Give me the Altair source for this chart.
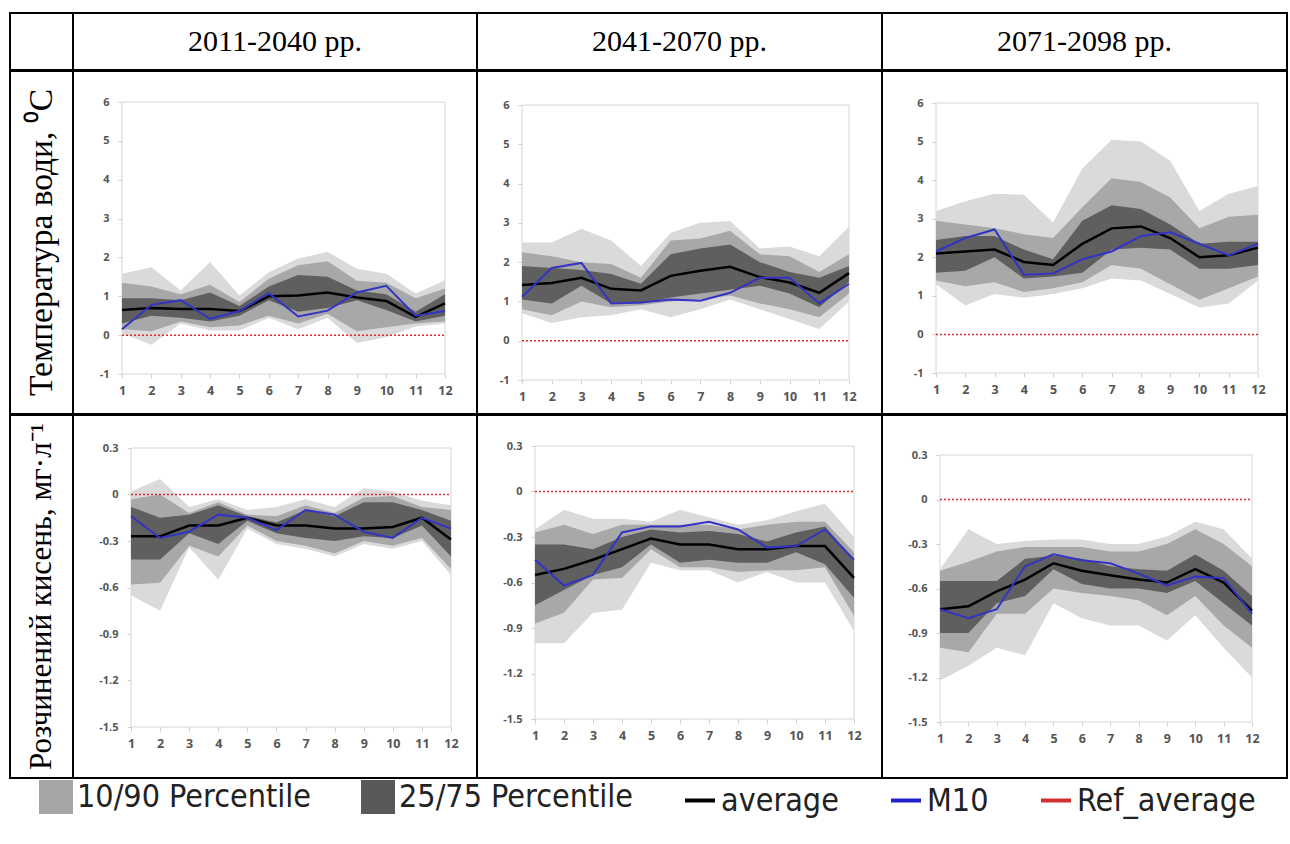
import altair as alt
import pandas as pd

# ---------------- data ----------------
MONTHS = list(range(1, 13))
HEADERS = ["2011-2040 рр.", "2041-2070 рр.", "2071-2098 рр."]
ROW_LABELS = ["Температура води, \u2070C", "Розчинений кисень,  мг·л\u207b\u00b9"]
TEMP_TICKS = [-1, 0, 1, 2, 3, 4, 5, 6]
OXY_TICKS = [-1.5, -1.2, -0.9, -0.6, -0.3, 0, 0.3]
REF_VALUE = 0
SERIES = ["10/90 Percentile", "25/75 Percentile", "average", "M10", "Ref_average"]

# water temperature, 2011-2040
T1 = dict(
    out_hi=[1.58, 1.75, 1.15, 1.88, 1.02, 1.62, 1.97, 2.14, 1.71, 1.58, 1.07, 1.41],
    mid_hi=[1.35, 1.25, 1.05, 1.30, 0.85, 1.45, 1.80, 1.90, 1.40, 1.35, 0.95, 1.20],
    in_hi=[0.95, 0.95, 0.90, 1.10, 0.75, 1.25, 1.55, 1.50, 1.15, 1.05, 0.60, 1.05],
    in_lo=[0.30, 0.50, 0.45, 0.35, 0.50, 0.90, 0.60, 0.70, 0.90, 0.65, 0.35, 0.50],
    mid_lo=[0.15, 0.10, 0.35, 0.20, 0.25, 0.50, 0.30, 0.55, 0.10, 0.20, 0.30, 0.35],
    out_lo=[0.05, -0.25, 0.30, 0.12, 0.12, 0.45, 0.15, 0.45, -0.20, -0.05, 0.22, 0.30],
    avg=[0.65, 0.70, 0.67, 0.67, 0.62, 1.00, 1.02, 1.10, 0.97, 0.88, 0.47, 0.82],
    m10=[0.15, 0.78, 0.90, 0.42, 0.62, 1.08, 0.48, 0.63, 1.10, 1.27, 0.50, 0.62],
)
# water temperature, 2041-2070
T2 = dict(
    out_hi=[2.50, 2.50, 2.85, 2.55, 1.90, 2.75, 3.00, 3.05, 2.35, 2.40, 2.15, 2.90],
    mid_hi=[2.25, 2.15, 2.00, 1.95, 1.60, 2.55, 2.60, 2.80, 2.20, 2.15, 1.75, 2.20],
    in_hi=[1.90, 1.85, 1.80, 1.70, 1.45, 2.20, 2.35, 2.45, 2.00, 1.75, 1.60, 1.90],
    in_lo=[1.05, 0.95, 1.40, 0.95, 0.95, 1.10, 1.20, 1.30, 1.40, 1.20, 0.85, 1.50],
    mid_lo=[0.80, 0.65, 1.00, 0.85, 0.90, 1.00, 1.05, 1.15, 0.95, 0.80, 0.60, 1.20],
    out_lo=[0.70, 0.45, 0.60, 0.65, 0.80, 0.60, 0.80, 1.05, 0.80, 0.55, 0.30, 1.00],
    avg=[1.42, 1.47, 1.60, 1.32, 1.28, 1.65, 1.78, 1.88, 1.62, 1.48, 1.22, 1.72],
    m10=[1.12, 1.85, 1.98, 0.95, 0.97, 1.05, 1.02, 1.22, 1.60, 1.60, 0.95, 1.45],
)
# water temperature, 2071-2098
T3 = dict(
    out_hi=[3.20, 3.45, 3.65, 3.62, 2.90, 4.30, 5.05, 5.00, 4.50, 3.20, 3.65, 3.85],
    mid_hi=[2.95, 2.85, 2.75, 2.60, 2.50, 3.30, 4.05, 3.95, 3.55, 2.75, 3.05, 3.10],
    in_hi=[2.45, 2.55, 2.55, 2.20, 1.95, 2.95, 3.35, 3.25, 2.85, 2.35, 2.40, 2.40],
    in_lo=[1.60, 1.65, 2.00, 1.45, 1.50, 1.60, 2.20, 2.25, 2.20, 1.70, 1.70, 1.80],
    mid_lo=[1.40, 1.25, 1.35, 1.10, 1.20, 1.35, 1.80, 1.70, 1.30, 0.90, 1.20, 1.50],
    out_lo=[1.30, 0.75, 1.05, 0.95, 1.05, 1.20, 1.45, 1.40, 1.05, 0.70, 0.80, 1.40],
    avg=[2.10, 2.15, 2.20, 1.88, 1.80, 2.35, 2.75, 2.80, 2.50, 2.00, 2.05, 2.25],
    m10=[2.15, 2.50, 2.72, 1.55, 1.58, 1.95, 2.15, 2.55, 2.65, 2.35, 2.05, 2.35],
)
# dissolved oxygen, 2011-2040
O1 = dict(
    out_hi=[0.02, 0.10, -0.08, -0.03, -0.10, -0.08, -0.03, -0.08, 0.04, 0.02, -0.04, -0.07],
    mid_hi=[-0.03, 0.00, -0.12, -0.05, -0.13, -0.14, -0.07, -0.12, -0.02, -0.01, -0.08, -0.10],
    in_hi=[-0.08, -0.15, -0.13, -0.07, -0.14, -0.18, -0.10, -0.14, -0.05, -0.05, -0.10, -0.17],
    in_lo=[-0.42, -0.42, -0.25, -0.32, -0.17, -0.25, -0.28, -0.30, -0.27, -0.28, -0.20, -0.40],
    mid_lo=[-0.58, -0.57, -0.33, -0.40, -0.20, -0.30, -0.33, -0.38, -0.30, -0.33, -0.28, -0.48],
    out_lo=[-0.65, -0.75, -0.34, -0.55, -0.22, -0.32, -0.35, -0.40, -0.32, -0.35, -0.30, -0.52],
    avg=[-0.27, -0.27, -0.20, -0.20, -0.15, -0.20, -0.20, -0.22, -0.22, -0.21, -0.15, -0.29],
    m10=[-0.14, -0.28, -0.24, -0.13, -0.15, -0.23, -0.10, -0.13, -0.24, -0.28, -0.15, -0.22],
)
# dissolved oxygen, 2041-2070
O2 = dict(
    out_hi=[-0.25, -0.12, -0.18, -0.18, -0.20, -0.12, -0.17, -0.22, -0.19, -0.13, -0.08, -0.30],
    mid_hi=[-0.27, -0.22, -0.28, -0.22, -0.22, -0.22, -0.22, -0.25, -0.22, -0.20, -0.20, -0.40],
    in_hi=[-0.35, -0.35, -0.38, -0.30, -0.25, -0.27, -0.26, -0.28, -0.33, -0.27, -0.23, -0.45],
    in_lo=[-0.75, -0.65, -0.55, -0.50, -0.35, -0.47, -0.45, -0.47, -0.47, -0.40, -0.48, -0.70],
    mid_lo=[-0.87, -0.80, -0.58, -0.57, -0.38, -0.50, -0.50, -0.53, -0.52, -0.52, -0.50, -0.82],
    out_lo=[-1.00, -1.00, -0.80, -0.78, -0.47, -0.52, -0.52, -0.60, -0.53, -0.60, -0.60, -0.92],
    avg=[-0.55, -0.51, -0.45, -0.38, -0.31, -0.35, -0.35, -0.38, -0.38, -0.36, -0.36, -0.57],
    m10=[-0.45, -0.62, -0.55, -0.27, -0.23, -0.23, -0.20, -0.25, -0.37, -0.36, -0.25, -0.45],
)
# dissolved oxygen, 2071-2098
O3 = dict(
    out_hi=[-0.47, -0.20, -0.30, -0.28, -0.27, -0.27, -0.30, -0.30, -0.25, -0.15, -0.20, -0.40],
    mid_hi=[-0.48, -0.42, -0.35, -0.32, -0.32, -0.32, -0.35, -0.35, -0.30, -0.20, -0.30, -0.45],
    in_hi=[-0.55, -0.55, -0.55, -0.40, -0.38, -0.40, -0.45, -0.47, -0.48, -0.37, -0.48, -0.65],
    in_lo=[-0.90, -0.90, -0.70, -0.65, -0.47, -0.57, -0.60, -0.60, -0.63, -0.55, -0.70, -0.85],
    mid_lo=[-1.00, -1.03, -0.77, -0.77, -0.60, -0.63, -0.65, -0.68, -0.78, -0.65, -0.85, -1.00],
    out_lo=[-1.22, -1.12, -1.00, -1.05, -0.70, -0.80, -0.85, -0.85, -0.95, -0.78, -1.00, -1.20],
    avg=[-0.74, -0.72, -0.62, -0.54, -0.43, -0.48, -0.51, -0.54, -0.56, -0.47, -0.56, -0.75],
    m10=[-0.74, -0.80, -0.74, -0.45, -0.37, -0.41, -0.43, -0.50, -0.58, -0.52, -0.53, -0.77],
)

# ---------------- styling / layout ----------------
C_OUT = "#dadada"
C_MID = "#a8a8a8"
C_IN = "#5f5f5f"
C_AVG = "#000000"
C_M10 = "#3333c4"
C_REF = "#e02a2a"
SERIES_COLORS = ["#a6a6a6", "#595959", "#000000", "#2020c8", "#d03030"]
SERIES_SHAPES = ["square", "square", "stroke", "stroke", "stroke"]

COL_W = [63, 404, 405, 405]
ROW_H = [57, 343, 363]
# (px of month 1, px of month 12, px of top tick, px of bottom tick) inside each cell
GEO = [
    [(49, 372, 31, 303), (45, 372, 34, 309), (54, 376, 32, 302)],
    [(58, 378, 33, 312), (58, 377, 31, 304), (58, 370, 40, 307)],
]


def make_panel(d, yticks, w, h, geo):
    x1p, x12p, ytp, ybp = geo
    kx = (x12p - x1p) / (MONTHS[-1] - MONTHS[0])
    xdom = [MONTHS[0] - x1p / kx, MONTHS[-1] + (w - x12p) / kx]
    ky = (ybp - ytp) / (yticks[-1] - yticks[0])
    ydom = [yticks[0] - (h - ybp) / ky, yticks[-1] + ytp / ky]
    xs = alt.Scale(domain=xdom, nice=False, zero=False)
    ys = alt.Scale(domain=ydom, nice=False, zero=False)
    common = dict(domain=False, grid=False, tickColor="#cfcfcf", tickSize=4,
                  labelColor="#555555", labelFont="Open Sans",
                  labelFontWeight="bold", labelOverlap=False, title=None)
    xax = alt.Axis(values=MONTHS, offset=-(h - ybp), labelPadding=6, labelFontSize=12.5, **common)
    yax = alt.Axis(values=yticks, offset=-x1p, labelPadding=9, labelFontSize=11,
                   labelExpr="'' + datum.value", **common)

    def X(f):
        return alt.X(f, type="quantitative", scale=xs, axis=xax)

    def Y(f):
        return alt.Y(f, type="quantitative", scale=ys, axis=yax)

    df = pd.DataFrame({"m": MONTHS, **d})
    fr = pd.DataFrame({"x0": [MONTHS[0]], "x1": [MONTHS[-1]],
                       "y0": [yticks[0]], "y1": [yticks[-1]], "ref": [REF_VALUE]})
    frame = alt.Chart(fr).mark_rect(fill="white", stroke="#d6d6d6", strokeWidth=1).encode(
        x=X("x0"), x2="x1", y=Y("y0"), y2="y1")
    band_out = alt.Chart(df).mark_area(color=C_OUT, opacity=1).encode(x=X("m"), y=Y("out_lo"), y2="out_hi")
    band_mid = alt.Chart(df).mark_area(color=C_MID, opacity=1).encode(x=X("m"), y=Y("mid_lo"), y2="mid_hi")
    band_in = alt.Chart(df).mark_area(color=C_IN, opacity=1).encode(x=X("m"), y=Y("in_lo"), y2="in_hi")
    ref = alt.Chart(fr).mark_rule(color=C_REF, strokeDash=[2, 2], strokeWidth=1.5).encode(
        x=X("x0"), x2="x1", y=Y("ref"))
    avg = alt.Chart(df).mark_line(color=C_AVG, strokeWidth=2.5).encode(x=X("m"), y=Y("avg"))
    m10 = alt.Chart(df).mark_line(color=C_M10, strokeWidth=2).encode(x=X("m"), y=Y("m10"))
    return alt.layer(frame, band_out, band_mid, band_in, ref, avg, m10).properties(width=w, height=h)


def text_cell(txt, w, h, angle=0, size=30):
    return alt.Chart(pd.DataFrame({"t": [txt]})).mark_text(
        font="Liberation Serif", fontSize=size, angle=angle, color="black"
    ).encode(
        x=alt.X("t:N", axis=None),
        y=alt.Y("t:N", axis=None),
        text="t:N",
    ).properties(width=w, height=h)


header_row = alt.hconcat(
    text_cell("", COL_W[0], ROW_H[0]),
    *[text_cell(HEADERS[i], COL_W[i + 1], ROW_H[0]) for i in range(3)],
    spacing=0, bounds="flush",
).resolve_scale(x="independent", y="independent")

temp_panels = [T1, T2, T3]
oxy_panels = [O1, O2, O3]

row1 = alt.hconcat(
    text_cell(ROW_LABELS[0], COL_W[0], ROW_H[1], angle=270, size=33.5),
    *[make_panel(temp_panels[i], TEMP_TICKS, COL_W[i + 1], ROW_H[1], GEO[0][i]) for i in range(3)],
    spacing=0, bounds="flush",
).resolve_scale(x="independent", y="independent")

row2 = alt.hconcat(
    text_cell(ROW_LABELS[1], COL_W[0], ROW_H[2], angle=270, size=31),
    *[make_panel(oxy_panels[i], OXY_TICKS, COL_W[i + 1], ROW_H[2], GEO[1][i]) for i in range(3)],
    spacing=0, bounds="flush",
).resolve_scale(x="independent", y="independent")

LEG_FONT = "DejaVu Sans Condensed, Liberation Sans, sans-serif"
leg = alt.Legend(
    orient="none", legendX=29, legendY=767, direction="horizontal", title=None,
    labelFont=LEG_FONT, labelFontSize=32, labelColor="#222222",
    labelLimit=500, symbolSize=900, symbolStrokeWidth=4, columnPadding=44,
    labelOffset=4, symbolOpacity=1, symbolFillColor="#a6a6a6",
)
legend_chart = alt.Chart(pd.DataFrame({"s": SERIES})).mark_point(filled=True, opacity=0).encode(
    fill=alt.Fill("s:N", scale=alt.Scale(domain=SERIES, range=SERIES_COLORS), legend=leg),
    stroke=alt.Stroke("s:N", scale=alt.Scale(domain=SERIES, range=SERIES_COLORS), legend=leg),
    shape=alt.Shape("s:N", scale=alt.Scale(domain=SERIES, range=SERIES_SHAPES), legend=leg),
).properties(width=sum(COL_W), height=40, view=alt.ViewBackground(strokeOpacity=0))

chart = alt.vconcat(header_row, row1, row2, legend_chart, spacing=-2).resolve_scale(
    x="independent", y="independent"
).properties(
    padding={"left": 9, "top": 12, "right": 0, "bottom": 0}, background="white"
).configure_view(stroke="black", strokeWidth=2)

chart.save("out.html", embed_options={"renderer": "svg", "actions": False})
